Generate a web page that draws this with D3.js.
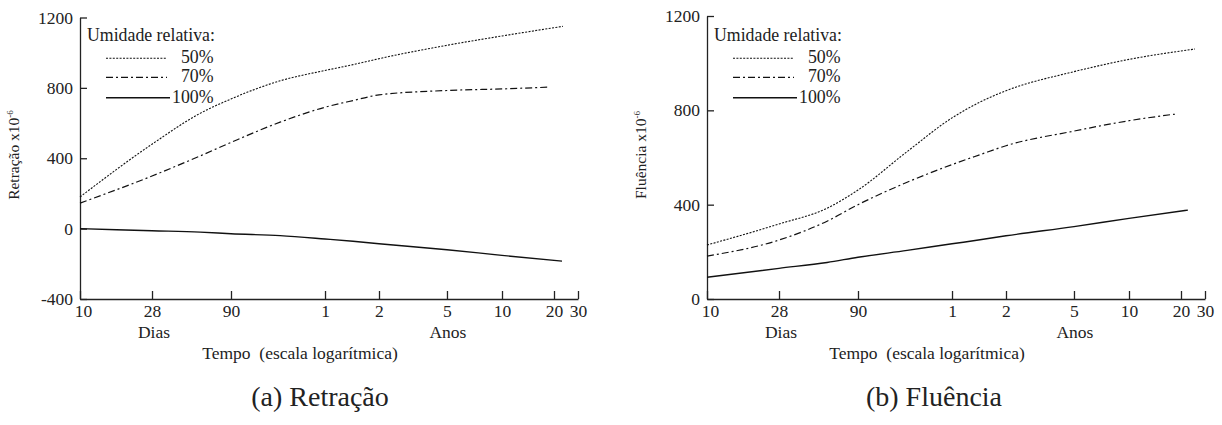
<!DOCTYPE html>
<html>
<head>
<meta charset="utf-8">
<script src="https://cdn.jsdelivr.net/npm/d3@7"></script>
<style>
  body { margin: 0; background: #fff; }
  svg text { font-family: "Liberation Serif", "Tinos", "DejaVu Serif", serif; fill: #222; }
</style>
</head>
<body>
<svg id="fig" width="1222" height="425"></svg>
<script>
// Tempo em dias (escala logarítmica); último ponto de cada curva vem dos arrays "fim"
const diasBase = [10, 28, 57, 90, 187, 365, 523, 730, 1825, 3650];
const fimRetracao = [8500, 6730, 8360];
const fimFluencia = [9250, 6730, 8200];

// Retração x10^-6
const retracao50 = [180, 480, 655, 737, 840, 899, 932, 966, 1042, 1095, 1150];
const retracao70 = [145, 299, 413, 490, 605, 690, 728, 760, 785, 794, 804];
const retracao100 = [0, -12, -20, -29, -40, -59, -72, -86, -120, -152, -185];

// Fluência x10^-6
const fluencia50 = [229, 318, 385, 462, 625, 768, 835, 883, 964, 1016, 1060];
const fluencia70 = [182, 250, 330, 400, 495, 570, 612, 650, 712, 756, 784];
const fluencia100 = [92, 130, 155, 177, 206, 234, 251, 268, 307, 342, 377];

const umidades = ['50%', '70%', '100%'];

// Marcas do eixo x (dias) e rótulos
const ticksDias = [10, 28, 90, 365, 730, 1825, 3650, 7300, 10950];
const ticksRotulos = ['10', '28', '90', '1', '2', '5', '10', '20', '30'];
const ticksFrac = [0, 0.1446, 0.3032, 0.492, 0.6004, 0.7369, 0.8474, 0.9518, 1];

const svg = d3.select('#fig');

const estilos = [
  { dash: '2,1.4', largura: 1.1 },
  { dash: '7,3,2,3', largura: 1.2 },
  { dash: null, largura: 1.4 }
];

function desenharGrafico(cfg) {
  const g = svg.append('g').attr('transform', `translate(${cfg.x0},0)`);
  const largura = 498;
  const topo = cfg.topo, base = 299;

  const x = d3.scaleLog()
    .domain(ticksDias)
    .range(ticksFrac.map(f => f * largura));

  const y = d3.scaleLinear().domain(cfg.dominioY).range([base, topo]);

  // eixo y
  const eixoY = g.append('g')
    .call(d3.axisLeft(y).tickValues(cfg.ticksY).tickSizeInner(-7).tickSizeOuter(0).tickPadding(7)
      .tickFormat(d => String(d)));
  eixoY.attr('font-family', null);
  eixoY.selectAll('text').style('font-size', '17.5px').attr('fill', '#222');
  eixoY.selectAll('line, path').attr('stroke', '#222').attr('stroke-width', 1.3);

  // eixo x
  const eixoX = g.append('g')
    .attr('transform', `translate(0,${base})`)
    .call(d3.axisBottom(x).tickValues(ticksDias).tickSizeInner(-8).tickSizeOuter(0).tickPadding(6)
      .tickFormat((d, i) => ticksRotulos[i]));
  eixoX.attr('font-family', null);
  eixoX.selectAll('text').style('font-size', '17.5px').attr('fill', '#222');
  eixoX.selectAll('line, path').attr('stroke', '#222').attr('stroke-width', 1.3);
  eixoX.select('.tick text').attr('dx', 3);

  g.append('text').attr('x', x(28) + 2).attr('y', 338).attr('text-anchor', 'middle')
    .style('font-size', '17.5px').text('Dias');
  g.append('text').attr('x', x(1825) + 1).attr('y', 338).attr('text-anchor', 'middle')
    .style('font-size', '17.5px').text('Anos');
  g.append('text').attr('x', largura / 2 - 29).attr('y', 359).attr('text-anchor', 'middle')
    .style('font-size', '17.5px').text('Tempo\u00a0\u00a0(escala logarítmica)');

  // legenda do eixo y
  const ly = g.append('text')
    .attr('transform', `translate(${cfg.rotuloX},155) rotate(-90)`)
    .attr('text-anchor', 'middle')
    .style('font-size', '15.5px');
  ly.append('tspan').text(cfg.rotuloY + ' x10');
  ly.append('tspan').attr('dy', -6).style('font-size', '9px').text('-6');

  // curvas
  const linha = d3.line()
    .x(d => x(d[0]))
    .y(d => y(d[1]))
    .curve(d3.curveMonotoneX);

  cfg.series.forEach((vals, i) => {
    const dias = diasBase.concat([cfg.fins[i]]);
    const pts = vals.map((v, k) => [dias[k], v]);
    g.append('path')
      .datum(pts)
      .attr('d', linha)
      .attr('fill', 'none')
      .attr('stroke', '#111')
      .attr('stroke-width', estilos[i].largura)
      .attr('stroke-dasharray', estilos[i].dash);
  });

  // legenda
  const leg = g.append('g');
  leg.append('text').attr('x', 7).attr('y', 41).style('font-size', '17.8px').text('Umidade relativa:');
  umidades.forEach((u, i) => {
    const yb = [63, 82, 102.5][i];
    leg.append('line')
      .attr('x1', 26).attr('x2', i === 2 ? 90 : 87)
      .attr('y1', yb - 4.7).attr('y2', yb - 4.7)
      .attr('stroke', '#111')
      .attr('stroke-width', estilos[i].largura)
      .attr('stroke-dasharray', estilos[i].dash);
    leg.append('text').attr('x', 133.5).attr('y', yb).attr('text-anchor', 'end')
      .style('font-size', '17.8px').text(u);
  });

  // título do subgráfico
  g.append('text').attr('x', cfg.tituloX).attr('y', 406).attr('text-anchor', 'middle')
    .style('font-size', '28px').text(cfg.titulo);
}

desenharGrafico({
  x0: 80, topo: 17.5,
  dominioY: [-400, 1200], ticksY: [-400, 0, 400, 800, 1200],
  series: [retracao50, retracao70, retracao100], fins: fimRetracao,
  rotuloY: 'Retração', rotuloX: -61,
  titulo: '(a) Retração', tituloX: 240
});

desenharGrafico({
  x0: 707, topo: 16,
  dominioY: [0, 1200], ticksY: [0, 400, 800, 1200],
  series: [fluencia50, fluencia70, fluencia100], fins: fimFluencia,
  rotuloY: 'Fluência', rotuloX: -61,
  titulo: '(b) Fluência', tituloX: 227
});
</script>
</body>
</html>
